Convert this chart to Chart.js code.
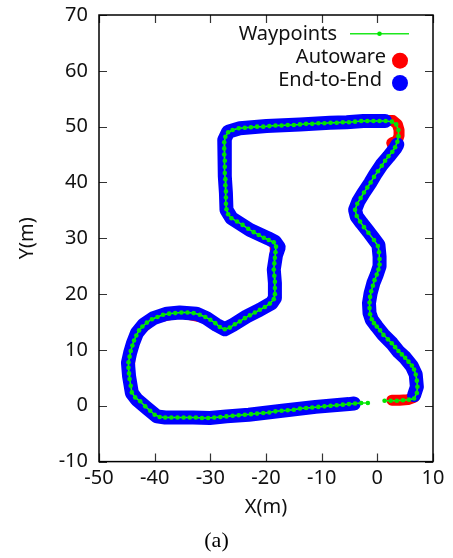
<!DOCTYPE html>
<html>
<head>
<meta charset="utf-8">
<script src="https://cdn.jsdelivr.net/npm/chart.js@4/dist/chart.umd.min.js"></script>
<style>
  html, body { margin: 0; padding: 0; background: #fff; }
  canvas { display: block; }
</style>
</head>
<body>
<canvas id="track" width="453" height="558"></canvas>
<script>
// route points as [x, y] in metres

const waypoints = [
  [1.3, 0.9], [2.4, 0.9], [3.5, 0.9], [4.6, 1.0], [5.7, 1.1], [6.6, 1.3],
  [7.1, 2.3], [7.2, 3.4], [7.1, 4.5], [6.9, 5.6], [6.6, 6.5], [6.2, 7.2], [5.6, 7.9],
  [5.0, 8.6], [4.4, 9.2], [3.8, 9.8], [3.2, 10.5], [2.6, 11.2], [1.9, 11.9], [1.1, 12.7],
  [0.5, 13.5], [-0.1, 14.2], [-0.6, 14.8], [-1.0, 15.5], [-1.3, 16.4], [-1.4, 17.5],
  [-1.4, 18.5], [-1.3, 19.5], [-1.1, 20.5], [-0.8, 21.5], [-0.5, 22.5], [-0.1, 23.5],
  [0.2, 24.4], [0.4, 25.3], [0.4, 26.3], [0.3, 27.5], [0.1, 28.6], [-0.6, 29.7],
  [-1.6, 31.0], [-2.4, 32.0], [-3.1, 33.0], [-3.7, 34.0], [-4.0, 35.1], [-3.6, 36.2],
  [-3.0, 37.2], [-2.4, 38.2], [-1.8, 39.1], [-1.2, 40.0], [-0.6, 41.0], [0.1, 42.0],
  [0.8, 43.0], [1.4, 43.9], [2.0, 44.7], [2.7, 45.5], [3.2, 46.3], [3.6, 47.3],
  [3.8, 48.3], [3.8, 49.4], [3.4, 50.4], [2.6, 50.9],
  [1.5, 51.0], [0.4, 51.0], [-0.7, 51.0], [-1.8, 51.0], [-2.9, 51.0], [-4.0, 50.9],
  [-5.1, 50.8], [-6.2, 50.8], [-7.3, 50.7], [-8.4, 50.7], [-9.5, 50.6], [-10.6, 50.6],
  [-11.7, 50.5], [-12.8, 50.5], [-13.9, 50.4], [-15.0, 50.3], [-16.1, 50.3], [-17.2, 50.2],
  [-18.3, 50.2], [-19.4, 50.1], [-20.5, 50.0], [-21.6, 50.0], [-22.7, 49.9], [-23.8, 49.8],
  [-24.9, 49.7], [-26.0, 49.4], [-26.8, 49.0], [-27.3, 48.2], [-27.5, 47.2],
  [-27.5, 46.1], [-27.5, 45.0], [-27.4, 43.9], [-27.4, 42.8], [-27.4, 41.7], [-27.3, 40.6],
  [-27.3, 39.5], [-27.2, 38.4], [-27.2, 37.3], [-27.2, 36.2], [-27.1, 35.2], [-26.8, 34.3],
  [-26.2, 33.6], [-25.2, 33.0], [-24.2, 32.4], [-23.2, 31.7], [-22.2, 31.1], [-21.3, 30.6],
  [-20.4, 30.1], [-19.5, 29.7], [-18.6, 29.3], [-18.2, 28.5], [-18.3, 27.5], [-18.4, 26.5],
  [-18.5, 25.5], [-18.6, 24.4], [-18.5, 23.3], [-18.4, 22.2], [-18.4, 21.1], [-18.4, 20.0],
  [-18.6, 19.1], [-19.3, 18.3], [-20.2, 17.7], [-21.1, 17.2], [-22.0, 16.7], [-22.9, 16.2],
  [-23.8, 15.7], [-24.7, 15.1], [-25.6, 14.6], [-26.5, 14.0], [-27.4, 13.7], [-28.3, 14.1],
  [-29.1, 14.8], [-30.0, 15.4], [-30.9, 15.9], [-31.9, 16.3], [-33.0, 16.6], [-34.1, 16.7],
  [-35.2, 16.7], [-36.3, 16.6], [-37.4, 16.5], [-38.5, 16.3], [-39.5, 15.9], [-40.5, 15.5],
  [-41.4, 14.9], [-42.2, 14.2], [-42.8, 13.5], [-43.3, 12.6], [-43.7, 11.7], [-44.0, 10.8],
  [-44.3, 9.8], [-44.5, 8.8], [-44.7, 7.8], [-44.7, 6.8], [-44.6, 5.8], [-44.5, 4.8],
  [-44.3, 3.6], [-44.1, 2.4], [-43.5, 1.5], [-42.6, 0.8], [-41.7, -0.1], [-40.8, -0.9],
  [-40.0, -1.6], [-39.1, -2.0], [-38.1, -2.1],
  [-37.0, -2.1], [-35.9, -2.1], [-34.8, -2.1], [-33.7, -2.1], [-32.6, -2.1], [-31.5, -2.2],
  [-30.4, -2.2], [-29.3, -2.1], [-28.2, -2.0], [-27.1, -1.9], [-26.0, -1.8], [-24.9, -1.7],
  [-23.8, -1.6], [-22.7, -1.5], [-21.6, -1.4], [-20.5, -1.3], [-19.4, -1.2], [-18.3, -1.0],
  [-17.2, -0.9], [-16.1, -0.8], [-15.0, -0.7], [-13.9, -0.5], [-12.8, -0.4], [-11.7, -0.3],
  [-10.6, -0.2], [-9.5, -0.1], [-8.4, 0.0], [-7.3, 0.1], [-6.2, 0.2], [-5.1, 0.3],
  [-4.0, 0.4], [-2.9, 0.5], [-1.7, 0.5]
];

const autowarePath = [
  [2.6, 1.0], [4.0, 1.0], [5.5, 1.1], [6.6, 1.5], [7.1, 3.0], [6.9, 5.6], [6.2, 7.1],
  [5.0, 8.6], [3.8, 9.7], [2.6, 11.2], [1.1, 12.7], [-0.1, 14.2], [-1.0, 15.4], [-1.4, 16.6],
  [-1.4, 18.4], [-1.2, 20.2], [-0.7, 22.0], [-0.1, 23.5], [0.4, 25.0], [0.4, 26.7],
  [0.2, 28.8], [-0.7, 30.0], [-1.6, 31.2], [-2.8, 32.7], [-3.7, 33.9], [-4.0, 35.1],
  [-3.4, 36.6], [-2.5, 38.1], [-1.3, 39.9], [-0.4, 41.4], [0.8, 43.2], [2.0, 44.6],
  [3.0, 46.0], [2.6, 47.1], [3.6, 47.5], [3.9, 48.4], [3.9, 49.4], [3.6, 50.4], [2.8, 51.1],
  [1.5, 51.1], [0.5, 51.0], [-2.5, 51.0], [-8.5, 50.7], [-13.9, 50.4], [-19.9, 50.1],
  [-24.7, 49.7], [-26.8, 49.1], [-27.5, 47.6], [-27.4, 41.1], [-27.1, 35.1], [-26.2, 33.6],
  [-22.9, 31.5], [-19.6, 30.0], [-18.4, 29.4], [-18.3, 27.0], [-18.6, 24.4], [-18.4, 19.3],
  [-19.0, 18.4], [-23.5, 16.0], [-27.4, 13.7], [-30.7, 15.7], [-35.5, 16.7], [-40.2, 15.7],
  [-43.2, 13.0], [-44.4, 9.5], [-44.6, 5.3], [-44.1, 2.3], [-43.2, 1.1], [-39.6, -1.9],
  [-38.1, -2.1], [-30.1, -2.2], [-23.1, -1.6], [-11.1, -0.2], [-5.1, 0.3], [-4.2, 0.4]
];

// null splits the run where no pose was logged
const endToEndPath = [
  [6.6, 1.9], [7.1, 3.4], [6.9, 5.6], [6.2, 7.1], [5.0, 8.6], [3.8, 9.7], [2.6, 11.2],
  [1.1, 12.7], [-0.1, 14.2], [-1.0, 15.4], [-1.4, 16.6], [-1.5, 18.4], [-1.2, 20.2],
  [-0.7, 22.0], [-0.1, 23.5], [0.4, 25.0], [0.4, 26.7], [0.2, 28.8], [-0.7, 30.0],
  [-1.6, 31.2], [-2.8, 32.7], [-3.7, 33.9], [-4.0, 35.1], [-3.4, 36.6], [-2.5, 38.1],
  [-1.3, 39.9], [-0.4, 41.4], [0.8, 43.2], [2.0, 44.6], [3.2, 46.1], [3.6, 46.8],
  null,
  [1.4, 51.0], [0.5, 51.0], [-2.5, 51.0], [-5.5, 50.8], [-8.5, 50.7], [-13.9, 50.4],
  [-19.9, 50.1], [-24.7, 49.7], [-26.8, 49.1], [-27.5, 47.6], [-27.4, 41.1], [-27.2, 38.1],
  [-27.1, 35.1], [-26.2, 33.6], [-22.9, 31.5], [-19.6, 30.0], [-18.4, 29.4], [-17.7, 28.4],
  [-18.2, 27.0], [-18.6, 24.4], [-18.4, 22.0], [-18.4, 19.3], [-19.0, 18.4], [-21.1, 17.2],
  [-23.5, 16.0], [-25.9, 14.5], [-27.4, 13.7], [-28.9, 14.5], [-30.7, 15.7], [-32.5, 16.5],
  [-35.5, 16.7], [-37.8, 16.5], [-40.2, 15.7], [-42.0, 14.5], [-43.2, 13.0], [-43.9, 11.2],
  [-44.4, 9.5], [-44.8, 7.7], [-44.6, 5.3], [-44.1, 2.3], [-43.2, 1.1], [-41.4, -0.4],
  [-39.6, -1.9], [-38.1, -2.1], [-33.1, -2.1], [-30.1, -2.2], [-27.1, -1.9], [-23.1, -1.6],
  [-17.1, -0.9], [-11.1, -0.2], [-5.1, 0.3], [-4.2, 0.4]
];

const xTicks = [-50, -40, -30, -20, -10, 0, 10];
const yTicks = [-10, 0, 10, 20, 30, 40, 50, 60, 70];

const toXY = list => list.map(p => p ? { x: p[0], y: p[1] } : { x: null, y: null });

Chart.defaults.font.family = "'Noto Sans', sans-serif";
Chart.defaults.font.size = 20;
Chart.defaults.color = '#111';

// gnuplot style border, inward tics and key (text first, sample after)
const frameAndKey = {
  id: 'frameAndKey',
  afterDatasetsDraw(chart) {
    const { ctx, chartArea: a, scales: { x, y } } = chart;
    ctx.save();

    ctx.strokeStyle = '#333';
    ctx.lineWidth = 1.2;
    ctx.beginPath();
    xTicks.forEach(v => {
      const px = Math.round(x.getPixelForValue(v)) + 0.5;
      ctx.moveTo(px, a.bottom); ctx.lineTo(px, a.bottom - 8);
      ctx.moveTo(px, a.top); ctx.lineTo(px, a.top + 8);
    });
    yTicks.forEach(v => {
      const py = Math.round(y.getPixelForValue(v)) + 0.5;
      ctx.moveTo(a.left, py); ctx.lineTo(a.left + 8, py);
      ctx.moveTo(a.right, py); ctx.lineTo(a.right - 8, py);
    });
    ctx.stroke();

    ctx.strokeStyle = '#000';
    ctx.lineWidth = 1.5;
    ctx.strokeRect(a.left, a.top, a.right - a.left, a.bottom - a.top);

    // key rows
    const ds = chart.data.datasets;
    ctx.font = "20px 'Noto Sans', sans-serif";
    ctx.fillStyle = '#111';
    ctx.textAlign = 'right';
    ctx.textBaseline = 'alphabetic';

    const wp = ds[0];
    ctx.fillText(wp.label, a.right - 96, a.top + 24.5);
    ctx.strokeStyle = wp.borderColor;
    ctx.lineWidth = wp.borderWidth;
    ctx.beginPath();
    ctx.moveTo(a.right - 83, a.top + 18.7);
    ctx.lineTo(a.right - 24, a.top + 18.7);
    ctx.stroke();
    ctx.fillStyle = wp.pointBackgroundColor;
    ctx.beginPath();
    ctx.arc(a.right - 53.5, a.top + 18.7, wp.pointRadius, 0, Math.PI * 2);
    ctx.fill();

    [[ds[1], 47, 47.7, 45.7], [ds[2], 51, 71, 68]].forEach(([d, dx, base, cy]) => {
      ctx.fillStyle = '#111';
      ctx.fillText(d.label, a.right - dx, a.top + base);
      ctx.fillStyle = d.borderColor;
      ctx.beginPath();
      ctx.arc(a.right - 33, a.top + cy, 8, 0, Math.PI * 2);
      ctx.fill();
    });

    ctx.restore();
  }
};

new Chart(document.getElementById('track'), {
  type: 'scatter',
  data: {
    datasets: [
      {
        label: 'Waypoints',
        data: toXY(waypoints),
        showLine: true,
        borderColor: '#1ee81e',
        borderWidth: 1.5,
        pointRadius: 2.3,
        pointBackgroundColor: '#00e600',
        pointBorderWidth: 0,
        order: 0
      },
      {
        label: 'Autoware',
        data: toXY(autowarePath),
        showLine: true,
        borderColor: '#ff0000',
        borderWidth: 11,
        borderCapStyle: 'round',
        borderJoinStyle: 'round',
        pointRadius: 0,
        order: 2
      },
      {
        label: 'End-to-End',
        data: toXY(endToEndPath),
        showLine: true,
        spanGaps: false,
        borderColor: '#0000ff',
        borderWidth: 14,
        borderCapStyle: 'round',
        borderJoinStyle: 'round',
        pointRadius: 0,
        order: 1
      }
    ]
  },
  options: {
    responsive: false,
    animation: false,
    events: [],
    layout: { padding: { top: 15, right: 20, left: 0, bottom: 0 } },
    plugins: {
      legend: { display: false },
      tooltip: { enabled: false },
      title: {
        display: true,
        position: 'bottom',
        text: '(a)',
        color: '#000',
        font: { family: "'Liberation Serif', serif", size: 22, weight: 'normal' },
        padding: { top: 4, bottom: 4 }
      }
    },
    scales: {
      x: {
        type: 'linear',
        min: -50,
        max: 10,
        grid: { display: false, drawTicks: false },
        border: { display: false },
        ticks: { stepSize: 10, padding: 5 },
        title: { display: true, text: 'X(m)', padding: { top: 0, bottom: 4.6 } },
        afterFit(scale) {
          scale.height = 62;
          scale.paddingLeft = 0;
          scale.paddingRight = 0;
        }
      },
      y: {
        type: 'linear',
        min: -10,
        max: 70,
        grid: { display: false, drawTicks: false },
        border: { display: false },
        ticks: { stepSize: 10, padding: 11 },
        title: { display: true, text: 'Y(m)', padding: { top: 15.6, bottom: 0 } },
        afterFit(scale) {
          scale.width = 99;
          scale.paddingTop = 0;
          scale.paddingBottom = 0;
        }
      }
    }
  },
  plugins: [frameAndKey]
});
</script>
</body>
</html>
